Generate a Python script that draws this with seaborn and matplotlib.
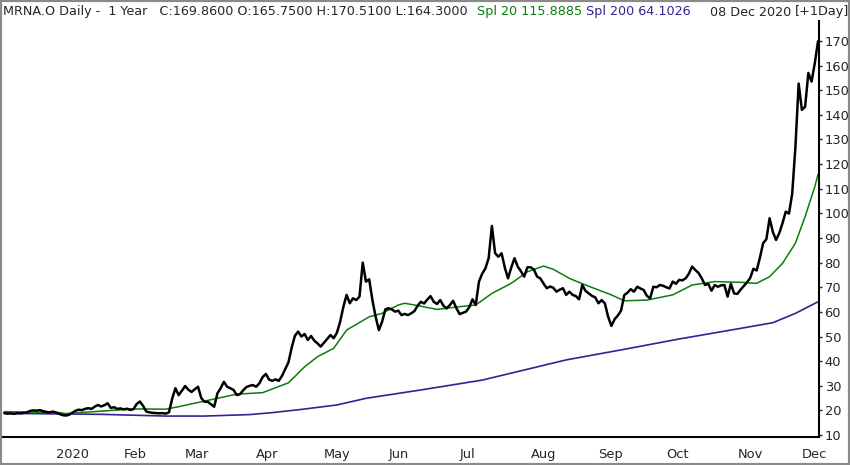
import matplotlib
matplotlib.use("Agg")
import matplotlib.pyplot as plt
import numpy as np
import pandas as pd
import seaborn as sns
from matplotlib.patches import Rectangle

# market holidays inside the one-year window
holidays = ["2019-12-25", "2020-01-01", "2020-01-20", "2020-02-17", "2020-04-10",
            "2020-05-25", "2020-07-03", "2020-09-07", "2020-11-26"]
month_labels = ["2020", "Feb", "Mar", "Apr", "May", "Jun", "Jul", "Aug",
                "Sep", "Oct", "Nov", "Dec"]
y_ticks = list(range(10, 171, 10))

# daily closes
close_dec19 = [18.9, 18.7, 18.8, 18.6, 18.9, 18.8, 19.0, 19.2, 19.8, 20.0, 19.9, 20.1,
               19.7, 19.4, 19.2, 19.5]
close_jan = [19.2, 18.6, 18.1, 17.9, 18.2, 19.0, 19.8, 20.3, 20.1, 20.6, 20.9, 20.6,
             21.5, 22.2, 21.6, 22.1, 22.9, 21.0, 21.3, 20.6, 20.8]
close_feb = [20.4, 20.7, 20.2, 20.5, 22.6, 23.6, 21.8, 19.5, 19.2, 19.0, 18.9, 18.8,
             18.9, 18.7, 19.2, 24.8, 29.0, 26.2, 28.0]
close_mar = [29.9, 28.4, 27.5, 28.6, 29.6, 25.0, 23.5, 23.5, 22.5, 21.5, 26.9, 29.0,
             31.6, 29.6, 29.0, 28.3, 26.2, 26.6, 28.2, 29.5, 30.0, 30.3]
close_apr = [29.6, 31.0, 33.5, 34.8, 32.5, 32.0, 32.6, 32.0, 34.0, 36.8, 39.5, 45.5,
             50.3, 52.0, 50.0, 51.0, 48.6, 50.2, 48.3, 47.2, 45.9]
close_may = [47.5, 49.0, 50.6, 49.3, 51.5, 56.0, 62.0, 66.9, 63.5, 65.5, 64.8, 66.2,
             80.0, 72.3, 73.2, 64.8, 58.0, 52.6, 56.0, 61.0]
close_jun = [61.5, 61.0, 60.1, 60.5, 58.7, 59.2, 58.7, 59.4, 60.3, 62.5, 64.1, 63.4,
             65.0, 66.4, 64.1, 63.2, 64.8, 62.5, 61.4, 62.8, 64.5, 61.5]
close_jul = [59.1, 59.6, 60.1, 61.9, 65.1, 62.8, 72.3, 75.5, 77.7, 81.8, 94.9, 83.8,
             82.4, 83.8, 78.0, 73.6, 78.0, 81.8, 78.4, 76.5, 74.3, 78.1]
close_aug = [78.1, 77.2, 74.3, 73.6, 71.5, 69.6, 70.3, 69.8, 68.2, 69.0, 69.6, 66.9,
             68.2, 66.9, 66.4, 65.1, 70.9, 68.5, 67.5, 66.5, 65.9]
close_sep = [63.5, 64.8, 63.4, 58.0, 54.3, 57.0, 58.5, 60.5, 66.8, 67.8, 69.2, 68.2,
             70.2, 69.5, 68.9, 66.5, 65.5, 70.2, 70.0, 70.9, 70.6]
close_oct = [70.0, 69.5, 72.3, 71.4, 73.0, 72.8, 73.6, 75.5, 78.4, 77.0, 75.8, 73.6,
             70.9, 71.4, 68.6, 70.9, 70.2, 70.8, 70.9, 66.2, 71.4, 67.5]
close_nov = [67.3, 69.0, 70.5, 72.0, 73.8, 77.5, 76.8, 82.0, 87.9, 89.5, 98.0, 92.5,
             89.2, 92.0, 96.0, 100.7, 99.9, 108.0, 127.0, 152.7]
close_dec20 = [142.0, 143.3, 157.0, 153.5, 161.0, 169.86]

close = (close_dec19 + close_jan + close_feb + close_mar + close_apr + close_may
         + close_jun + close_jul + close_aug + close_sep + close_oct + close_nov
         + close_dec20)

# Spl 20 (green), sampled along the curve: trading-day index -> value
sma20_day = [0, 17, 19, 30, 40, 50, 54, 61, 66, 72, 80, 88, 93, 97, 102, 106, 113, 117,
             122, 124, 127, 134, 141, 146, 151, 157, 162, 167, 170, 175, 180, 188, 192,
             199, 207, 213, 220, 228, 233, 237, 241, 245, 248, 251, 252]
sma20_val = [19.5, 19.1, 18.7, 19.7, 20.6, 20.5, 21.5, 23.5, 24.9, 26.6, 27.2, 31.2,
             37.7, 41.8, 45.2, 52.6, 58.0, 59.4, 62.8, 63.5, 62.8, 61.0, 62.1, 62.8,
             67.5, 71.6, 76.3, 78.6, 77.3, 73.6, 70.9, 66.9, 64.5, 64.8, 66.9, 70.9,
             72.3, 72.0, 71.6, 74.3, 79.7, 87.9, 98.7, 110.8, 115.89]

# Spl 200 (purple)
sma200_day = [0, 30, 50, 62, 76, 83, 92, 103, 112, 129, 148, 174, 192, 209, 228, 238,
              245, 252]
sma200_val = [18.8, 18.4, 17.7, 17.7, 18.3, 19.1, 20.4, 22.2, 24.9, 28.3, 32.3, 40.5,
              44.8, 49.0, 53.3, 55.6, 59.4, 64.1]

green = "#0c7d0c"
purple = "#3a1e96"

sns.set_style("white")
plt.rcParams["font.family"] = ["DejaVu Sans"]

dates = pd.bdate_range("2019-12-09", "2020-12-08", freq="C", holidays=holidays)
cal = pd.Series(np.arange(len(dates)), index=dates)
month_first = cal.groupby([dates.year, dates.month]).first().values[1:]

df = pd.DataFrame({"day": np.arange(len(close)), "close": close})

fig = plt.figure(figsize=(8.5, 4.65), dpi=100)
ax = fig.add_axes([3 / 850, 1 - 437 / 465, 816 / 850, 416 / 465])

sns.lineplot(x=sma200_day, y=sma200_val, color=purple, lw=1.2, ax=ax)
sns.lineplot(x=sma20_day, y=sma20_val, color=green, lw=1.1, ax=ax)
sns.lineplot(data=df, x="day", y="close", color="black", lw=1.8, ax=ax)

ax.set_xlim(-0.4, 252.3)
ax.set_ylim(9.2, 178.1)
ax.set_xlabel("")
ax.set_ylabel("")

ax.yaxis.tick_right()
ax.set_yticks(y_ticks)
ax.set_yticklabels([str(v) for v in y_ticks], fontsize=9.4)
ax.tick_params(axis="y", direction="out", length=2, width=1, pad=2)

ax.set_xticks(month_first[:len(month_labels)])
ax.set_xticklabels(month_labels, fontsize=9.4, ha="left")
ax.tick_params(axis="x", direction="out", length=6, width=1.5, pad=2)

for side in ["left", "top"]:
    ax.spines[side].set_visible(False)
for side in ["right", "bottom"]:
    ax.spines[side].set_color("black")
    ax.spines[side].set_linewidth(1.5)

# header line
ty = 1 - 12 / 465
hs = 9.2
fig.text(3 / 850, ty, "MRNA.O Daily -  1 Year   C:169.8600 O:165.7500 H:170.5100 L:164.3000",
         fontsize=hs, va="center")
fig.text(477 / 850, ty, "Spl 20 115.8885", fontsize=hs, va="center", color=green)
fig.text(586 / 850, ty, "Spl 200 64.1026", fontsize=hs, va="center", color=purple)
fig.text(710 / 850, ty, "08 Dec 2020", fontsize=hs, va="center")
fig.text(795 / 850, ty, "[+1Day]", fontsize=hs, va="center")

fig.patches.append(Rectangle((0, 0), 1, 1, transform=fig.transFigure, fill=False,
                             edgecolor="#8a8a8a", linewidth=3))

fig.savefig("out.png", dpi=100)
